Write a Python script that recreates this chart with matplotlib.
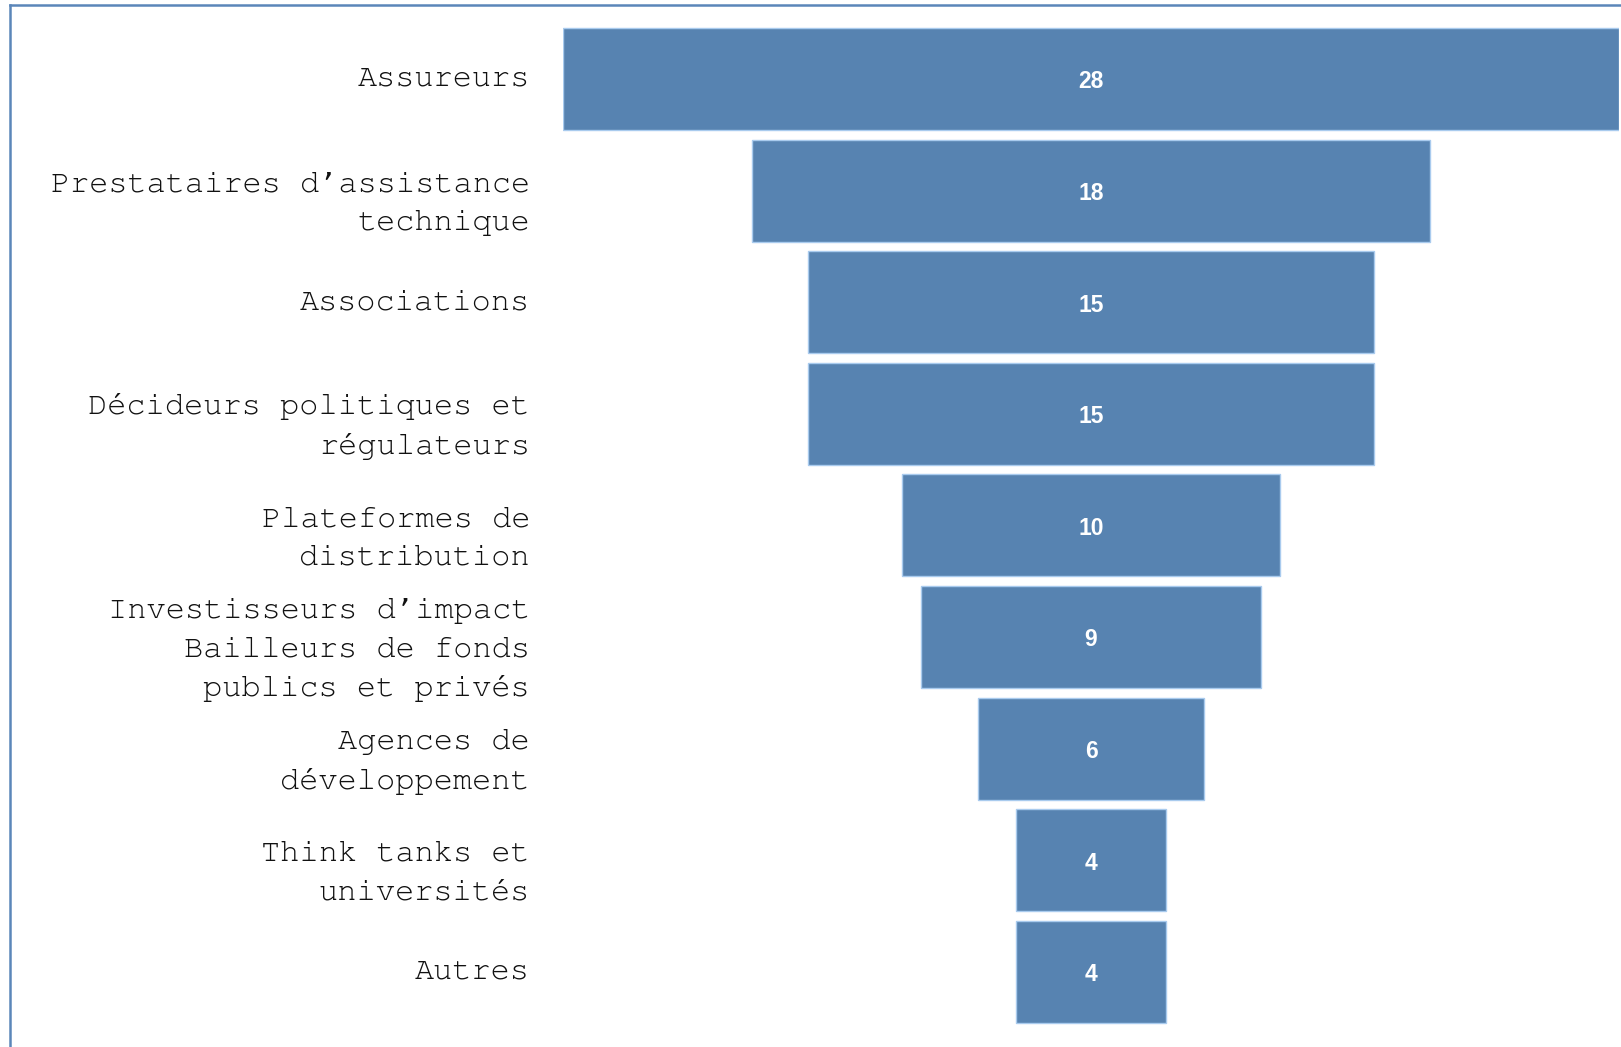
import matplotlib
matplotlib.use("Agg")
import matplotlib.pyplot as plt
from matplotlib.lines import Line2D
from matplotlib.transforms import ScaledTranslation, blended_transform_factory
from matplotlib import font_manager

categories = [
    "Assureurs",
    "Prestataires d\u2019assistance\ntechnique",
    "Associations",
    "D\u00e9cideurs politiques et\nr\u00e9gulateurs",
    "Plateformes de\ndistribution",
    "Investisseurs d\u2019impact\nBailleurs de fonds\npublics et priv\u00e9s",
    "Agences de\nd\u00e9veloppement",
    "Think tanks et\nuniversit\u00e9s",
    "Autres",
]
values = [28, 18, 15, 15, 10, 9, 6, 4, 4]

installed = {f.name for f in font_manager.fontManager.ttflist}
mono = next((f for f in ["Courier New", "Nimbus Mono PS", "FreeMono", "Liberation Mono"]
             if f in installed), "DejaVu Sans Mono")

W, H = 1621, 1047
fig = plt.figure(figsize=(W / 100, H / 100), dpi=100)
fig.patch.set_facecolor("white")

left_px, right_px = 563, 1619
ax = fig.add_axes([left_px / W, 0, (right_px - left_px) / W, 1])
maxv = max(values)
ax.set_xlim(-maxv / 2, maxv / 2)
pitch = 111.6
c0 = 79
ax.set_ylim(8 + (H - (c0 + 8 * pitch)) / pitch, -c0 / pitch)

ypos = list(range(len(values)))
lefts = [-v / 2 for v in values]
ax.barh(ypos, values, left=lefts, height=0.915, color="#5783B1",
        edgecolor="#A9CBEE", linewidth=1.0)

val_tr = ax.transData + ScaledTranslation(0, -3 / 100, fig.dpi_scale_trans)
for y, v in zip(ypos, values):
    ax.text(0, y, str(v), transform=val_tr, ha="center", va="center",
            color="white", fontsize=16.5, fontweight="bold",
            family="Liberation Sans")

label_tr = blended_transform_factory(fig.transFigure, ax.transData)
for y, lab in zip(ypos, categories):
    tr = label_tr
    if "\n" in lab:
        tr = label_tr + ScaledTranslation(0, -13 / 100, fig.dpi_scale_trans)
    ax.text(530 / W, y, lab, transform=tr, ha="right", va="center",
            multialignment="right", fontsize=23, family=mono,
            color="#111111", linespacing=1.62)

ax.set_yticks([])
ax.set_xticks([])
for s in ax.spines.values():
    s.set_visible(False)
ax.patch.set_alpha(0)

frame_color = "#5B86B9"
fig.add_artist(Line2D([10 / W, 10 / W], [0, 1 - 5 / H], transform=fig.transFigure,
                      color=frame_color, linewidth=1.8))
fig.add_artist(Line2D([10 / W, 1], [1 - 5 / H, 1 - 5 / H], transform=fig.transFigure,
                      color=frame_color, linewidth=1.8))

fig.savefig("out.png", dpi=100)
